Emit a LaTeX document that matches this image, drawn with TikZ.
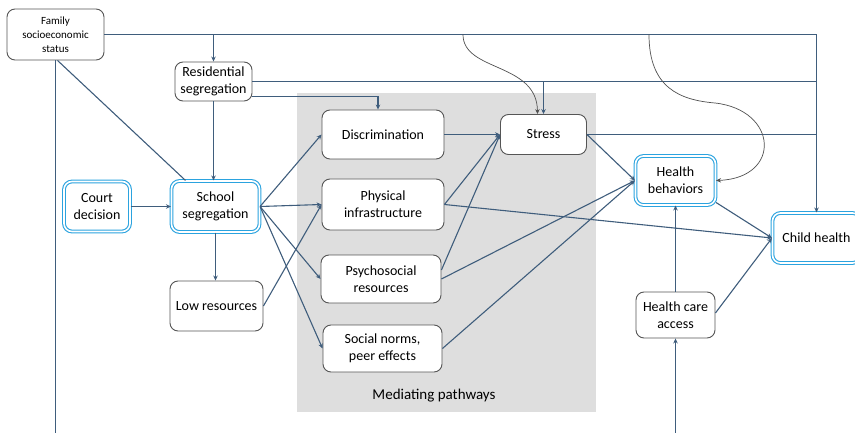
\documentclass[tikz,border=0pt]{standalone}
\usepackage{fontspec}
\setmainfont{Carlito}
\usetikzlibrary{arrows.meta}
\definecolor{lncol}{HTML}{3F5D7C}
\definecolor{boxgray}{HTML}{555555}
\definecolor{keyblue}{HTML}{2BA3DF}
\definecolor{panelgray}{HTML}{DEDEDE}
\definecolor{curvecol}{HTML}{505050}
\begin{document}
\begin{tikzpicture}[x=1pt,y=-1pt,
  box/.style={draw=boxgray, line width=0.9pt, rounded corners=8pt, fill=white, align=center, inner sep=0pt, font=\fontsize{14}{17}\selectfont},
  keybox/.style={box, draw=keyblue, double=white, double distance=1.6pt, line width=1.1pt},
  ln/.style={draw=lncol, line width=1.1pt},
  arr/.style={ln, -{Stealth[length=5pt,width=4.5pt]}},
  curvearr/.style={draw=curvecol, line width=0.7pt, -{Stealth[length=5pt,width=4.5pt]}}]
\useasboundingbox (0,0) rectangle (855,433);
\fill[panelgray] (297,93) rectangle (596,412);
\node[font=\fontsize{15}{18}\selectfont] (med) at (434,396) {Mediating pathways};

\node[box, minimum width=97pt, minimum height=51pt, font=\fontsize{11}{14}\selectfont] (fam) at (55.5,34.5) {Family\\socioeconomic\\status};
\node[box, minimum width=77pt, minimum height=39pt] (res) at (213.5,81.5) {Residential\\segregation};
\node[keybox, minimum width=66pt, minimum height=50pt] (court) at (97,206.5) {Court\\decision};
\node[keybox, minimum width=88pt, minimum height=51pt] (school) at (215.5,206.5) {School\\segregation};
\node[box, minimum width=93pt, minimum height=50pt] (low) at (216.5,306) {Low resources};
\node[box, minimum width=122pt, minimum height=49pt] (disc) at (383,134.5) {Discrimination};
\node[box, minimum width=86pt, minimum height=40pt] (stress) at (543.5,134.5) {Stress};
\node[box, minimum width=122pt, minimum height=51pt] (phys) at (383,204.5) {Physical\\infrastructure};
\node[box, minimum width=120pt, minimum height=48pt] (psy) at (381,279) {Psychosocial\\resources};
\node[box, minimum width=119pt, minimum height=47pt] (soc) at (382.5,348.5) {Social norms,\\peer effects};
\node[keybox, minimum width=80pt, minimum height=49pt] (hb) at (675.5,180.5) {Health\\behaviors};
\node[keybox, minimum width=88pt, minimum height=50pt] (ch) at (816.5,238) {Child health};
\node[box, minimum width=79pt, minimum height=46pt] (hca) at (675.5,315) {Health care\\access};

\coordinate (famdown) at (55.5,433);
\coordinate (hcabottom) at (675.5,433);
\coordinate (c1start) at (463,34.5);
\coordinate (c2start) at (649,34.5);
\coordinate (c2mid) at (715,103);

% top frame lines
\draw[arr] (fam.east) -- (fam.east -| ch.north) -- (ch.north);
\draw[arr] (fam.east -| res.north) -- (res.north);
\draw[ln] (res.east) -- (res.east -| ch.north);
\draw[arr] (res.east -| stress.north) -- (stress.north);
\draw[arr] ([yshift=-15pt]res.east) -| ([xshift=-5pt]disc.north);
\draw[ln] (stress.east) -- (stress.east -| ch.north);

% left part
\draw[ln] (fam.south) -- (famdown);
\draw[ln] ([xshift=2pt]fam.south) -- ([xshift=-30pt]school.north);
\draw[arr] (res.south) -- (res.south |- school.north);
\draw[arr] (court.east) -- (school.west);
\draw[arr] (school.south) -- (school.south |- low.north);
\draw[arr] (school.east) -- (disc.west);
\draw[arr] (school.east) -- (phys.west);
\draw[arr] (school.east) -- (psy.west);
\draw[arr] (school.east) -- (soc.west);
\draw[arr] (low.east) -- (phys.west);

% mediators
\draw[arr] (disc.east) -- (stress.west);
\draw[arr] (phys.east) -- (stress.west);
\draw[arr] ([yshift=9pt]psy.east) -- (stress.west);
\draw[arr] (psy.east) -- (hb.west);
\draw[arr] (soc.east) -- (hb.west);
\draw[arr] (phys.east) -- (ch.west);
\draw[arr] (stress.east) -- (hb.west);

% right part
\draw[arr] ([yshift=-22pt]hb.east) -- (ch.west);
\draw[arr] (hca.north) -- (hca.north |- hb.south);
\draw[arr] ([yshift=2pt]hca.east) -- (ch.west);
\draw[arr] (hcabottom) -- (hca.south);

% curves
\draw[curvearr] (c1start) .. controls (463,72) and (537,62) .. ([xshift=-6pt]stress.north);
\draw[curvearr] (c2start) .. controls (649,88) and (680,100) .. (c2mid) .. controls (778,110) and (782,178) .. (hb.east);
\end{tikzpicture}
\end{document}
